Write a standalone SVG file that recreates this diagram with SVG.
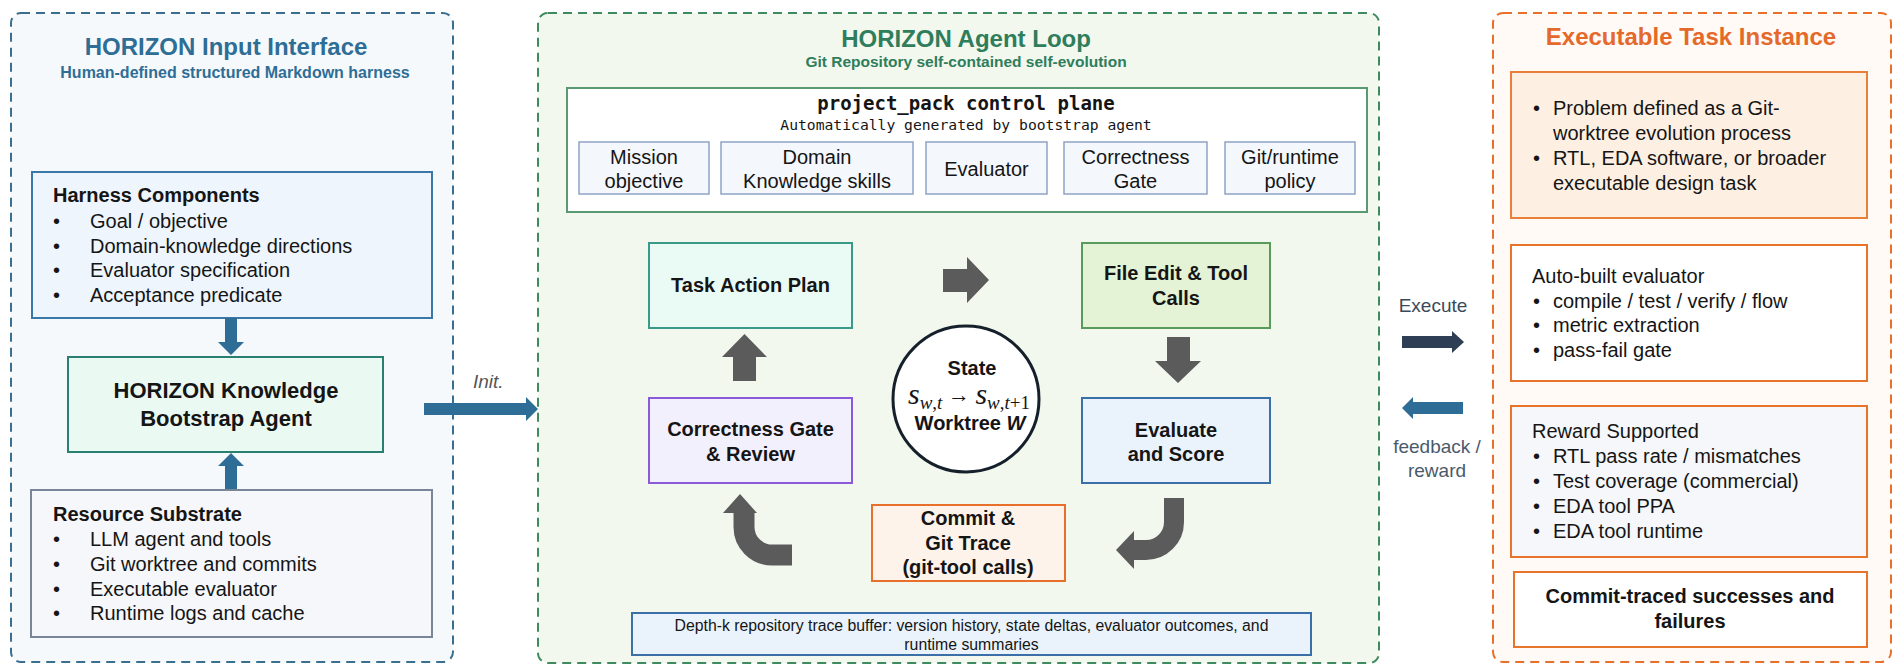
<svg xmlns="http://www.w3.org/2000/svg" width="1900" height="668" viewBox="0 0 1900 668">
<style>
text{font-family:"Liberation Sans",Arial,sans-serif;fill:#151515}
.b{font-weight:bold}
.c{text-anchor:middle}
.f20{font-size:20px}
.mono{font-family:"DejaVu Sans Mono","Liberation Mono",monospace}
.panel{stroke-width:2;stroke-dasharray:9 6}
.sub{fill:#f4f7fc;stroke:#8ea4c8;stroke-width:1.5}
.gray{fill:#5b5b5b}
.org{fill:none;stroke:#e8742c;stroke-width:2}
</style>
<rect width="1900" height="668" fill="#ffffff"/>

<!-- Left panel -->
<g id="input-interface">
<rect class="panel" x="11" y="13" width="442" height="649" rx="10" fill="#f6f9fc" stroke="#3b6f8f"/>
<text class="b c" x="226" y="55" font-size="24" style="fill:#2e6e96">HORIZON Input Interface</text>
<text class="b c" x="235" y="78" font-size="16" style="fill:#2e6e96">Human-defined structured Markdown harness</text>
</g>
<g id="harness-components">
<rect x="32" y="172" width="400" height="146" fill="#eef5fc" stroke="#3a78a8" stroke-width="2"/>
<text class="b f20" x="53" y="202">Harness Components</text>
<g class="f20">
<text x="53" y="228">•</text><text x="90" y="228">Goal / objective</text>
<text x="53" y="253">•</text><text x="90" y="253">Domain-knowledge directions</text>
<text x="53" y="277">•</text><text x="90" y="277">Evaluator specification</text>
<text x="53" y="302">•</text><text x="90" y="302">Acceptance predicate</text>
</g>
</g>
<g id="bootstrap-agent">
<rect x="68" y="357" width="315" height="95" fill="#eafaf3" stroke="#2a8070" stroke-width="2"/>
<text class="b c" x="226" y="398" font-size="22">HORIZON Knowledge</text>
<text class="b c" x="226" y="426" font-size="22">Bootstrap Agent</text>
</g>
<g id="resource-substrate">
<rect x="31" y="490" width="401" height="147" fill="#f5f7fa" stroke="#7a8598" stroke-width="2"/>
<text class="b f20" x="53" y="521">Resource Substrate</text>
<g class="f20">
<text x="53" y="546">•</text><text x="90" y="546">LLM agent and tools</text>
<text x="53" y="571">•</text><text x="90" y="571">Git worktree and commits</text>
<text x="53" y="596">•</text><text x="90" y="596">Executable evaluator</text>
<text x="53" y="620">•</text><text x="90" y="620">Runtime logs and cache</text>
</g>
</g>

<!-- Middle panel -->
<g id="agent-loop">
<rect class="panel" x="538" y="13" width="841" height="650" rx="10" fill="#f3f8ef" stroke="#3d8b5e"/>
<text class="b c" x="966" y="47" font-size="24" style="fill:#2e7d5b">HORIZON Agent Loop</text>
<text class="b c" x="966" y="67" font-size="15.5" style="fill:#2e7d5b">Git Repository self-contained self-evolution</text>
</g>
<g id="project-pack">
<rect x="567" y="88" width="800" height="124" fill="#ffffff" stroke="#5a9a72" stroke-width="2"/>
<text class="mono b c" x="966" y="110" font-size="19">project_pack control plane</text>
<text class="mono c" x="966" y="130" font-size="14.7">Automatically generated by bootstrap agent</text>
</g>
<g id="pp-mission"><rect class="sub" x="579" y="142" width="130" height="52"/><text class="c f20" x="644" y="164">Mission</text><text class="c f20" x="644" y="188">objective</text></g>
<g id="pp-domain"><rect class="sub" x="721" y="142" width="192" height="52"/><text class="c f20" x="817" y="164">Domain</text><text class="c f20" x="817" y="188">Knowledge skills</text></g>
<g id="pp-evaluator"><rect class="sub" x="926" y="142" width="121" height="52"/><text class="c f20" x="986.5" y="176">Evaluator</text></g>
<g id="pp-gate"><rect class="sub" x="1064" y="142" width="143" height="52"/><text class="c f20" x="1135.5" y="164">Correctness</text><text class="c f20" x="1135.5" y="188">Gate</text></g>
<g id="pp-policy"><rect class="sub" x="1225" y="142" width="130" height="52"/><text class="c f20" x="1290" y="164">Git/runtime</text><text class="c f20" x="1290" y="188">policy</text></g>

<g id="task-action-plan">
<rect x="649" y="243" width="203" height="85" fill="#eafaf5" stroke="#3a9a8a" stroke-width="2"/>
<text class="b c f20" x="750.5" y="292">Task Action Plan</text>
</g>
<g id="file-edit">
<rect x="1082" y="243" width="188" height="85" fill="#e4f2d6" stroke="#5a9a5a" stroke-width="2"/>
<text class="b c f20" x="1176" y="280">File Edit &amp; Tool</text>
<text class="b c f20" x="1176" y="305">Calls</text>
</g>
<g id="evaluate-score">
<rect x="1082" y="398" width="188" height="85" fill="#eaf3fc" stroke="#3a6fa8" stroke-width="2"/>
<text class="b c f20" x="1176" y="437">Evaluate</text>
<text class="b c f20" x="1176" y="461">and Score</text>
</g>
<g id="correctness-review">
<rect x="649" y="398" width="203" height="85" fill="#f3f0fd" stroke="#8a5ad8" stroke-width="2"/>
<text class="b c f20" x="750.5" y="436">Correctness Gate</text>
<text class="b c f20" x="750.5" y="461">&amp; Review</text>
</g>
<g id="commit-trace">
<rect x="872" y="505" width="193" height="76" fill="#fdf3ea" stroke="#e8702a" stroke-width="2"/>
<text class="b c f20" x="968" y="525">Commit &amp;</text>
<text class="b c f20" x="968" y="550">Git Trace</text>
<text class="b c f20" x="968" y="574">(git-tool calls)</text>
</g>
<g id="state">
<circle cx="966" cy="399" r="73" fill="#ffffff" stroke="#15202b" stroke-width="3"/>
<text class="b c f20" x="972" y="375">State</text>
<text class="c" x="969" y="404" style="font-family:'Liberation Serif','Times New Roman',serif"><tspan font-style="italic" font-size="30">s</tspan><tspan font-size="19" dy="5"><tspan font-style="italic">w</tspan>,<tspan font-style="italic">t</tspan></tspan><tspan font-size="22" dy="-7"> → </tspan><tspan font-style="italic" font-size="30" dy="2">s</tspan><tspan font-size="19" dy="5"><tspan font-style="italic">w</tspan>,<tspan font-style="italic">t</tspan>+1</tspan></text>
<text class="b c f20" x="970" y="430">Worktree <tspan font-style="italic">W</tspan></text>
</g>
<g id="trace-buffer">
<rect x="632" y="613" width="679" height="42" fill="#eaf3fc" stroke="#3a6fa8" stroke-width="2"/>
<text class="c" x="971.5" y="631" font-size="15.8">Depth-k repository trace buffer: version history, state deltas, evaluator outcomes, and</text>
<text class="c" x="971.5" y="650" font-size="15.8">runtime summaries</text>
</g>

<!-- Right panel -->
<g id="task-instance">
<rect class="panel" x="1493" y="13" width="398" height="649" rx="10" fill="#fffaf5" stroke="#e8702a"/>
<text class="b c" x="1691" y="45" font-size="24" style="fill:#e4692a">Executable Task Instance</text>
</g>
<g id="problem-box">
<rect x="1511" y="72" width="356" height="146" fill="#fdf0e3" stroke="#e8803a" stroke-width="2"/>
<g class="f20">
<text x="1533" y="115">•</text><text x="1553" y="115">Problem defined as a Git-</text>
<text x="1553" y="140">worktree evolution process</text>
<text x="1533" y="165">•</text><text x="1553" y="165">RTL, EDA software, or broader</text>
<text x="1553" y="190">executable design task</text>
</g>
</g>
<g id="evaluator-box">
<rect class="org" x="1511" y="245" width="356" height="136" style="fill:#ffffff"/>
<g class="f20">
<text x="1532" y="283">Auto-built evaluator</text>
<text x="1533" y="308">•</text><text x="1553" y="308">compile / test / verify / flow</text>
<text x="1533" y="332">•</text><text x="1553" y="332">metric extraction</text>
<text x="1533" y="357">•</text><text x="1553" y="357">pass-fail gate</text>
</g>
</g>
<g id="reward-box">
<rect class="org" x="1511" y="406" width="356" height="151" style="fill:#f5f7fa"/>
<g class="f20">
<text x="1532" y="438">Reward Supported</text>
<text x="1533" y="463">•</text><text x="1553" y="463">RTL pass rate / mismatches</text>
<text x="1533" y="488">•</text><text x="1553" y="488">Test coverage (commercial)</text>
<text x="1533" y="513">•</text><text x="1553" y="513">EDA tool PPA</text>
<text x="1533" y="538">•</text><text x="1553" y="538">EDA tool runtime</text>
</g>
</g>
<g id="commit-outcomes">
<rect class="org" x="1514" y="572" width="353" height="75" style="fill:#ffffff"/>
<text class="b c f20" x="1690" y="603">Commit-traced successes and</text>
<text class="b c f20" x="1690" y="628">failures</text>
</g>

<!-- Connectors -->
<g id="connectors">
<polygon fill="#2e6e96" points="225,318 237,318 237,342 244,342 231,355 218,342 225,342"/>
<polygon fill="#2e6e96" points="225,489 225,466 218,466 231,453 244,466 237,466 237,489"/>
<polygon fill="#2e6e96" points="424,403 526,403 526,397 538,409 526,421 526,415 424,415"/>
<text x="473" y="388" font-size="19" font-style="italic" style="fill:#555">Init.</text>
<polygon class="gray" points="943,269 967,269 967,257 989,280 967,303 967,292 943,292"/>
<polygon class="gray" points="1167,337 1190,337 1190,361 1201,361 1178,383 1155,361 1167,361"/>
<path d="M1174,498 V522 A28,28 0 0 1 1146,550 H1132" fill="none" stroke="#5b5b5b" stroke-width="20"/>
<polygon class="gray" points="1134,531 1116,550 1134,569"/>
<path d="M792,555 H772 A28,28 0 0 1 744,527 V512" fill="none" stroke="#5b5b5b" stroke-width="21"/>
<polygon class="gray" points="723,513 740,494 757,513"/>
<polygon class="gray" points="733,381 733,357 722,357 744.5,334 767,357 756,357 756,381"/>
<text x="1433" y="312" font-size="19" class="c" style="fill:#3a4a5a">Execute</text>
<polygon fill="#2e3e55" points="1402,336 1452,336 1452,331 1464,342 1452,353 1452,348 1402,348"/>
<polygon fill="#2e6e96" points="1463,402 1413,402 1413,397 1402,408 1413,419 1413,414 1463,414"/>
<text class="c" x="1437" y="453" font-size="19" style="fill:#4a5a6a">feedback /</text>
<text class="c" x="1437" y="477" font-size="19" style="fill:#4a5a6a">reward</text>
</g>
</svg>
